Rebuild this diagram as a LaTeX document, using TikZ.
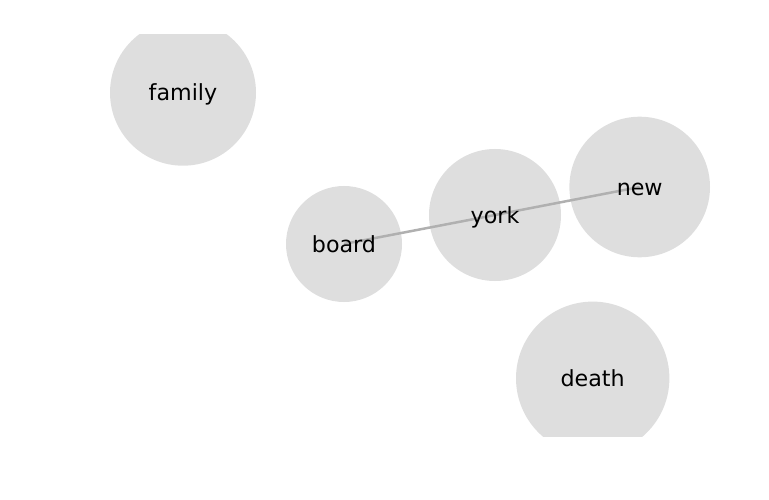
\documentclass[tikz,border=0pt]{standalone}
\usepackage{fontspec}
\setmainfont{DejaVu Sans}
\definecolor{nodegray}{HTML}{DEDEDE}
\definecolor{edgegray}{HTML}{B0B0B0}
\begin{document}
\begin{tikzpicture}[x=1pt,y=-1pt,
  lbl/.style={inner sep=0pt,text height=21.4pt,text depth=5.2pt,font=\fontsize{22.2}{26}\selectfont},
  edge/.style={draw=edgegray,line width=2.5pt}]
\useasboundingbox (0,0) rectangle (769,500);
\begin{scope}
\clip (0,35) rectangle (769,436);
\fill[nodegray] (183,92.7) circle (73);
\fill[nodegray] (344,244) circle (58);
\fill[nodegray] (495,215) circle (66);
\fill[nodegray] (639.7,187) circle (70.3);
\fill[nodegray] (592.7,378.3) circle (76.7);
\end{scope}
\coordinate (cfamily) at (183,92.7);
\coordinate (cboard) at (344,244);
\coordinate (cyork) at (495,215);
\coordinate (cnew) at (639.7,187);
\coordinate (cdeath) at (592.7,378.3);
\draw[edge] (cboard) -- (cyork);
\draw[edge] (cyork) -- (cnew);
\node[lbl] (family) at (cfamily) {family};
\node[lbl] (board) at (cboard) {board};
\node[lbl] (york) at (cyork) {york};
\node[lbl] (new) at (cnew) {new};
\node[lbl] (death) at (cdeath) {death};
\end{tikzpicture}
\end{document}
